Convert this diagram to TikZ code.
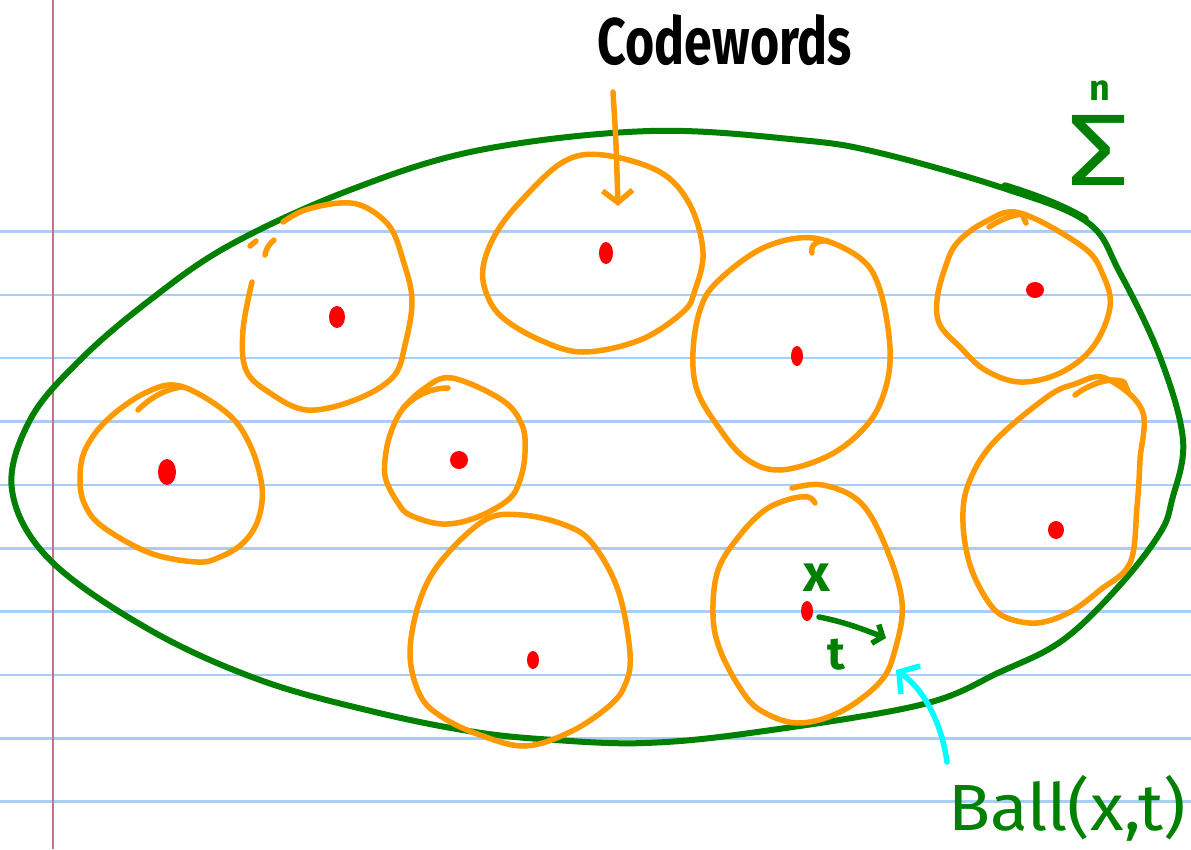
\documentclass[tikz,border=0pt]{standalone}
\usepackage{fontspec}
\setmainfont{Fira Sans}
\usepackage{graphicx}
\usetikzlibrary{arrows.meta}
\definecolor{rulecol}{RGB}{168,206,248}
\definecolor{margincol}{RGB}{200,112,140}
\definecolor{inkgreen}{RGB}{0,128,0}
\definecolor{ballorange}{RGB}{255,153,0}
\definecolor{pointred}{RGB}{255,0,0}
\definecolor{pointcyan}{RGB}{0,255,255}
\begin{document}
\begin{tikzpicture}[x=1pt,y=-1pt,line join=round,
  ruleline/.style={rulecol,line width=2.4pt},
  hull/.style={inkgreen,line width=6pt,line cap=round},
  ballline/.style={ballorange,line width=5.5pt,line cap=round},
  cword/.style={fill=pointred,draw=none},
  lbl/.style={inner sep=0pt,outer sep=0pt}]
\useasboundingbox (0,0) rectangle (1191,849);
\fill[white] (0,0) rectangle (1191,849);

% ruled paper
\foreach \y in {231.5,295,358,421.5,485,548.5,611.5,675,738.5,801.5}
  \draw[ruleline] (0,\y) -- (1191,\y);
\draw[margincol,line width=2.2pt] (53,0) -- (53,849);

% the space Sigma^n
\draw[hull] plot[smooth cycle,tension=0.6] coordinates {
  (12,490) (30,420) (80,360) (150,300) (230,245) (350,190) (480,150)
  (650,131) (800,140) (880,153) (1003,188) (1087,222) (1120,273)
  (1160,357) (1183,440) (1172,500) (1160,533) (1120,585) (1063,640)
  (1000,672) (920,705) (750,733) (645,743) (555,740) (475,732)
  (375,712) (260,680) (150,630) (50,560)};
\draw[hull,line width=7.5pt] (1005,186) .. controls (1040,197) and (1065,207) .. (1085,219);

% balls around the codewords
\draw[ballline] plot[smooth cycle,tension=0.6] coordinates {
  (145,393) (180,386) (227,413) (250,445) (262,487) (258,520) (243,543)
  (220,557) (197,562) (150,553) (103,527) (85,505) (80,480) (85,450) (107,420)};
\draw[ballline] (138,410) .. controls (150,398) and (165,389) .. (182,387);

\draw[ballline] plot[smooth,tension=0.6] coordinates {
  (252,282) (243,330) (246,370) (270,393) (307,410) (355,400) (393,377)
  (405,345) (412,300) (403,260) (390,227) (365,207) (340,203) (305,210) (283,222)};
\draw[ballline] (250,246) -- (256,241);
\draw[ballline] (265,255) .. controls (266,249) and (269,244) .. (274,240);

\draw[ballline] plot[smooth cycle,tension=0.6] coordinates {
  (603,155) (660,172) (690,205) (703,252) (695,290) (683,312) (640,340)
  (583,352) (540,340) (503,318) (487,295) (483,268) (495,235) (520,202) (563,162)};

\draw[ballline] plot[smooth cycle,tension=0.6] coordinates {
  (452,378) (502,400) (522,425) (525,453) (520,480) (508,500) (475,518)
  (442,524) (410,515) (398,503) (386,480) (385,460) (390,435) (402,410) (425,388)};
\draw[ballline] (448,388) .. controls (430,388) and (415,396) .. (403,408);

\draw[ballline] plot[smooth cycle,tension=0.6] coordinates {
  (522,515) (565,525) (592,543) (618,590) (630,653) (625,685) (608,707)
  (570,732) (525,746) (480,735) (442,717) (420,695) (410,653) (420,600)
  (442,560) (485,520)};

\draw[ballline] plot[smooth cycle,tension=0.6] coordinates {
  (813,238) (860,258) (880,290) (890,348) (885,390) (867,425) (830,455)
  (780,470) (745,458) (717,425) (697,390) (693,352) (700,310) (717,282) (763,248)};
\draw[ballline] (812,253) .. controls (810,245) and (817,240) .. (828,241);

\draw[ballline] plot[smooth,tension=0.6] coordinates {
  (792,488) (823,485) (860,502) (885,545) (902,602) (895,650) (880,682)
  (840,712) (797,723) (760,710) (740,688) (720,650) (713,615) (718,570)
  (740,535) (765,510) (790,499) (808,497) (815,503)};

\draw[ballline] plot[smooth cycle,tension=0.6] coordinates {
  (1020,213) (1083,247) (1103,275) (1110,307) (1093,347) (1060,373)
  (1020,382) (985,370) (960,347) (940,325) (937,300) (945,268) (957,243) (985,222)};
\draw[ballline] (989,227) .. controls (1000,220) and (1012,215) .. (1022,214) -- (1026,223);

\draw[ballline] plot[smooth cycle,tension=0.6] coordinates {
  (1105,378) (1142,410) (1140,460) (1137,507) (1130,563) (1100,590)
  (1070,612) (1037,623) (1005,617) (987,600) (970,565) (963,523) (968,485)
  (993,443) (1047,397) (1075,384)};
\draw[ballline] (1075,395) .. controls (1088,385) and (1110,376) .. (1124,382) -- (1128,391);

% codewords
\fill[cword] (167,472) ellipse [x radius=9pt,y radius=13pt];
\fill[cword] (337,317) ellipse [x radius=8pt,y radius=11pt];
\fill[cword] (606,253) ellipse [x radius=7pt,y radius=11pt];
\fill[cword] (459,460) ellipse [x radius=9pt,y radius=9pt];
\fill[cword] (533,660) ellipse [x radius=6pt,y radius=9pt];
\fill[cword] (797,356) ellipse [x radius=6pt,y radius=10pt];
\fill[cword] (807,611) ellipse [x radius=6pt,y radius=10pt];
\fill[cword] (1035,290) ellipse [x radius=9pt,y radius=8pt];
\fill[cword] (1056,530) ellipse [x radius=8pt,y radius=9pt];

% labels
\node[lbl] (cwlabel) at (725,40) {\resizebox{254pt}{50pt}{\bfseries Codewords}};
\node[lbl,inkgreen] (sigma) at (1099,150) {\resizebox*{62pt}{70pt}{Σ}};
\node[lbl,inkgreen,anchor=base] (sigmaexp) at (1100,100) {\fontsize{36}{36}\selectfont\bfseries n};
\node[lbl,inkgreen] (xlbl) at (817,578) {\fontsize{52}{52}\selectfont\bfseries x};
\node[lbl,inkgreen] (tlbl) at (836,655) {\fontsize{46}{46}\selectfont\bfseries t};
\node[lbl,inkgreen] (balllbl) at (1067,808) {\resizebox*{238pt}{66pt}{Ball(x,t)}};

% pointers
\coordinate (cwtail) at (613,92);
\coordinate (cwtip) at (618,206);
\draw[ballline,-{Straight Barb[length=12pt,width=30pt]}] (cwtail) .. controls (616,140) .. (cwtip);

\coordinate (xcentre) at (819,617);
\coordinate (radiusend) at (886,638);
\draw[inkgreen,line width=5.5pt,line cap=round,-{Straight Barb[length=8pt,width=20pt]}]
  (xcentre) .. controls (845,622) and (865,630) .. (radiusend);

\coordinate (balltail) at (947,762);
\coordinate (balltip) at (896,670);
\draw[pointcyan,line width=5.5pt,line cap=round,-{Straight Barb[length=14pt,width=34pt]}]
  (balltail) .. controls (942,725) and (925,690) .. (balltip);
\end{tikzpicture}
\end{document}
